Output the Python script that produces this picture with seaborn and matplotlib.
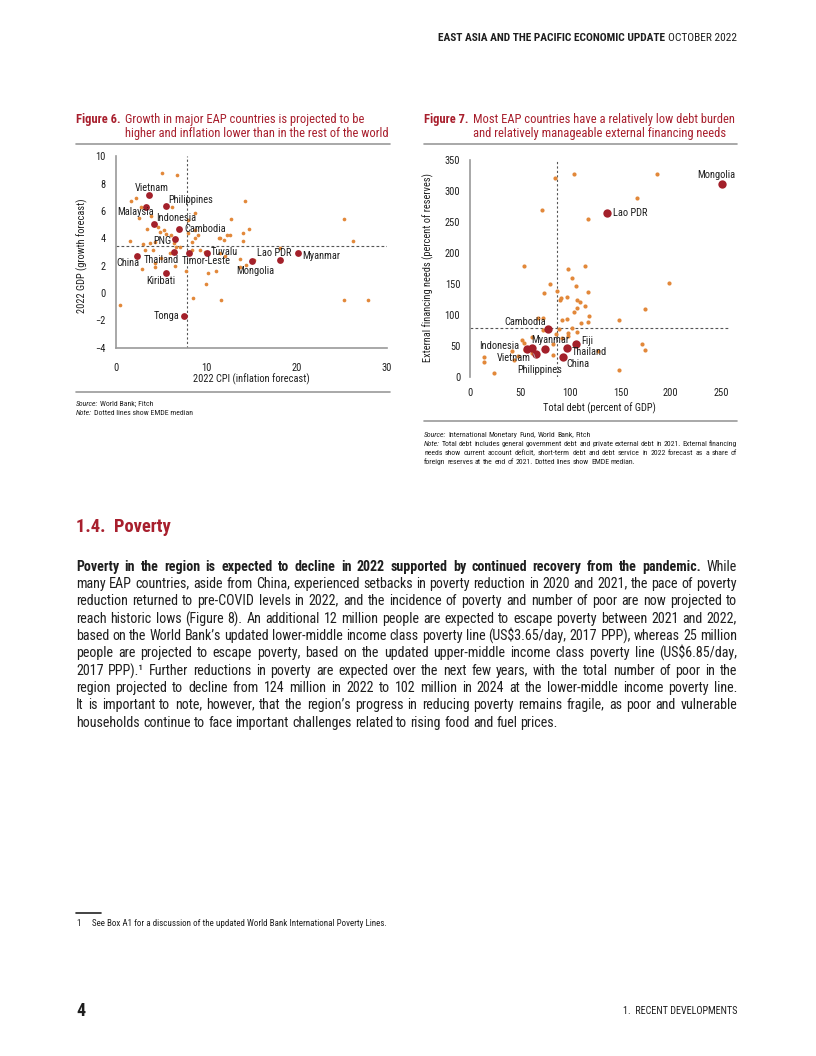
import matplotlib
matplotlib.use('Agg')
import matplotlib.pyplot as plt
from matplotlib import font_manager
from matplotlib.lines import Line2D
from matplotlib.backends.backend_agg import get_hinting_flag
import seaborn as sns
import pandas as pd

# ---- Figure 6 data: 2022 CPI (x) vs 2022 GDP growth (y)
eap6_names = ['Vietnam', 'Philippines', 'Malaysia', 'Indonesia', 'Cambodia', 'PNG', 'China',
              'Thailand', 'Timor-Leste', 'Tuvalu', 'Kiribati', 'Tonga', 'Mongolia', 'Lao PDR', 'Myanmar']
eap6_cpi = [3.7, 5.6, 3.3, 4.2, 7.0, 6.55, 2.4, 6.4, 8.1, 10.1, 5.55, 7.55, 15.1, 18.2, 20.2]
eap6_gdp = [7.15, 6.4, 6.3, 5.05, 4.7, 3.95, 2.73, 3.0, 2.9, 2.9, 1.44, -1.68, 2.34, 2.41, 2.9]
oth6_cpi = [5.1, 6.8, 1.7, 2.2, 2.8, 6.25, 14.3, 2.6, 3.9, 8.8, 8.0, 12.7, 25.3, 3.5, 4.7, 8.0, 8.8,
            12.3, 12.6, 14.1, 14.7, 11.4, 14.1, 1.6, 26.2, 5.3, 6.4, 6.7, 3.05, 3.8, 4.35, 4.9, 5.55,
            6.1, 7.1, 8.76, 8.4, 9.1, 11.5, 12.0, 3.2, 4.15, 8.4, 9.3, 11.5, 2.95, 4.35, 6.55, 7.77,
            10.2, 11.1, 10.0, 8.6, 11.6, 0.5, 13.7, 14.4, 13.7, 12.1, 15.3, 18.15, 25.3, 27.9, 9.9,
            6.0, 4.3, 5.0]
oth6_gdp = [8.76, 8.63, 6.75, 6.93, 6.3, 6.3, 6.75, 5.5, 5.6, 5.83, 5.34, 5.44, 5.44, 4.66, 4.8,
            4.37, 4.6, 4.24, 4.24, 4.37, 4.7, 4.05, 3.83, 3.78, 3.78, 4.6, 3.68, 3.39, 3.58, 3.63,
            3.75, 4.45, 4.3, 4.24, 3.39, 4.0, 3.75, 4.24, 4.0, 3.88, 3.15, 3.15, 3.15, 3.15, 2.9,
            1.73, 1.93, 1.97, 1.61, 1.44, 1.61, 0.66, -0.39, -0.51, -0.88, 1.93, 2.05, 2.47, 2.7,
            2.4, 3.3, -0.51, -0.51, 3.0, 2.9, 2.2, 2.55]
emde6_cpi_median = 7.9
emde6_gdp_median = 3.44

# ---- Figure 7 data: total debt (x) vs external financing needs (y)
eap7_names = ['Mongolia', 'Lao PDR', 'Cambodia', 'Indonesia', 'Myanmar', 'Vietnam',
              'Philippines', 'Fiji', 'Thailand', 'China']
eap7_debt = [251, 136.5, 77.4, 56.5, 74.4, 65.7, 61.5, 106, 97, 93]
eap7_efn = [310, 264.5, 77.5, 44.2, 44.2, 36, 45.5, 53.2, 46.3, 32.3]
oth7_debt = [84.7, 103.6, 72, 117.8, 186, 166, 54, 97.6, 115, 101.3, 80, 105.6, 117.9, 74, 86.3,
             90.6, 90, 96.3, 106.3, 109.6, 114.6, 106.9, 103.9, 118.5, 96.3, 91.3, 88.6, 101.6,
             110.6, 117.2, 106.6, 97.2, 97.2, 85.4, 67.7, 73, 72.8, 61.4, 51.5, 54.1, 91.3, 83,
             42.1, 48.1, 44.1, 14.2, 14.2, 24.2, 82.4, 127.8, 62, 54.8, 198.3, 174.3, 148.4,
             171.6, 174, 148]
oth7_efn = [320, 327, 269, 254, 327, 289, 178, 174, 179, 159.7, 149, 146.8, 136.6, 134.5, 138.2,
            126.4, 123.7, 129, 123.7, 120, 114, 111.3, 104.4, 98.4, 93.5, 91.4, 76.5, 78.5, 86,
            87.7, 72.6, 70, 65.6, 68.9, 94.2, 95.2, 75.3, 63.5, 59.2, 53.8, 61.9, 52.7, 41, 33.4,
            27, 32.3, 23.7, 6.5, 35, 42, 37.7, 43, 151.6, 108.7, 91.5, 52.7, 43, 10.8]
emde7_debt_median = 86.3
emde7_efn_median = 79

# ---- page text
header_bold = 'EAST ASIA AND THE PACIFIC ECONOMIC UPDATE'
header_reg = 'OCTOBER 2022'
fig6_title = ['Growth in major EAP countries is projected to be',
              'higher and inflation lower than in the rest of the world']
fig7_title = ['Most EAP countries have a relatively low debt burden',
              'and relatively manageable external financing needs']
fig6_source = [('Source:', 'World Bank; Fitch'), ('Note:', 'Dotted lines show EMDE median')]
fig7_source = ['Source: International Monetary Fund, World Bank, Fitch',
               'Note: Total debt includes general government debt and private external debt in 2021. External financing',
               'needs show current account deficit, short-term debt and debt service in 2022 forecast as a share of',
               'foreign reserves at the end of 2021. Dotted lines show EMDE median.']
section_title = '1.4.  Poverty'
bold_lead = 'Poverty in the region is expected to decline in 2022 supported by continued recovery from the pandemic.'
para_lines = [
    'Poverty in the region is expected to decline in 2022 supported by continued recovery from the pandemic. While',
    'many EAP countries, aside from China, experienced setbacks in poverty reduction in 2020 and 2021, the pace of poverty',
    'reduction returned to pre-COVID levels in 2022, and the incidence of poverty and number of poor are now projected to',
    'reach historic lows (Figure 8). An additional 12 million people are expected to escape poverty between 2021 and 2022,',
    'based on the World Bank\u2019s updated lower-middle income class poverty line (US$3.65/day, 2017 PPP), whereas 25 million',
    'people are projected to escape poverty, based on the updated upper-middle income class poverty line (US$6.85/day,',
    '2017 PPP).\u00b9 Further reductions in poverty are expected over the next few years, with the total number of poor in the',
    'region projected to decline from 124 million in 2022 to 102 million in 2024 at the lower-middle income poverty line.',
    'It is important to note, however, that the region\u2019s progress in reducing poverty remains fragile, as poor and vulnerable',
    'households continue to face important challenges related to rising food and fuel prices.',
]
footnote = 'See Box A1 for a discussion of the updated World Bank International Poverty Lines.'
page_no = '4'
chapter = '1.  RECENT DEVELOPMENTS'

# label offsets in pixels (dx, dy, ha)
lab6 = {'Vietnam': (3, 7, 'center'), 'Philippines': (2, 6, 'left'), 'Malaysia': (8, -5, 'right'),
        'Indonesia': (2, 6, 'left'), 'Cambodia': (5, 0, 'left'), 'PNG': (-4, -2, 'right'),
        'China': (2, -7, 'right'), 'Thailand': (5, -8, 'right'), 'Timor-Leste': (-7, -8, 'left'),
        'Tuvalu': (4, 1, 'left'), 'Kiribati': (-5, -8, 'center'), 'Tonga': (-5, 0, 'right'),
        'Mongolia': (3, -10, 'center'), 'Lao PDR': (11, 7, 'right'), 'Myanmar': (4, -3, 'left')}
lab7 = {'Mongolia': (-6, 9, 'center'), 'Lao PDR': (6, 0, 'left'), 'Cambodia': (-2, 7, 'right'),
        'Indonesia': (-7, 3, 'right'), 'Myanmar': (6, 9, 'center'), 'Vietnam': (-5, -4, 'right'),
        'Philippines': (8, -22, 'center'), 'Fiji': (5, 3, 'left'), 'Thailand': (4, -4, 'left'),
        'China': (3, -7, 'left')}

sns.set_style('white')
avail = {f.name for f in font_manager.fontManager.ttflist}
FONT = 'DejaVu Sans'
for cand in ['Liberation Sans Narrow', 'Roboto Condensed', 'Open Sans Condensed', 'Roboto', 'Lato']:
    if cand in avail:
        FONT = cand
        break
plt.rcParams['font.family'] = [FONT, 'DejaVu Sans']

RED = '#a81f2d'
DOT_RED = '#a3202a'
ORANGE = '#e2883a'
TXT = '#1e1e1e'
GRID = '#9a9a9a'

W, H = 816, 1056
fig = plt.figure(figsize=(8.16, 10.56), dpi=100)
rend = fig.canvas.get_renderer()


def fx(px):
    return px / W


def fy(py):
    return 1 - py / H


def hline(x0, x1, y, color=GRID, lw=1.2):
    fig.add_artist(Line2D([fx(x0), fx(x1)], [fy(y), fy(y)], transform=fig.transFigure,
                          color=color, lw=lw))


def width_of(t):
    return t.get_window_extent(rend).width


def measure(s, size, wt='normal', st='normal'):
    t = fig.text(0, 0, s, fontsize=size, fontweight=wt, fontstyle=st, parse_math=False)
    w = width_of(t)
    t.remove()
    return w


def baseline_fix(t):
    # Agg places a string bitmap from its own bbox, which can move the baseline by a pixel
    # from word to word; work out that shift so every word lands on the same row
    font = rend._prepare_font(t.get_fontproperties())
    font.set_text(t.get_text(), 0, flags=get_hinting_flag())
    h26 = font.get_width_height()[1]
    d26 = font.get_descent()
    return (h26 - d26) // 64 - h26 // 64, d26 / 64


def put_words(y, x0, x1, words, size, justify=True, color=TXT):
    row = round(y + 0.34 * size * 100 / 72)
    arts = [fig.text(0, 0.5, w, fontsize=size, fontweight=wt, fontstyle=st, color=color,
                     va='baseline', ha='left', parse_math=False) for w, wt, st in words]
    widths = [width_of(a) for a in arts]
    space = measure('a a', size) - measure('aa', size)
    gap = (x1 - x0 - sum(widths)) / (len(arts) - 1) if (justify and len(arts) > 1) else space
    x = x0
    for a, w in zip(arts, widths):
        k, dd = baseline_fix(a)
        yf = row - k - dd
        a.set_position((fx(x), (H - yf) / H))
        x += w + gap


# ---- header
t = fig.text(fx(737), fy(38), header_reg, fontsize=8.2, ha='right', va='center', color=TXT)
fig.text(fx(737 - width_of(t) - 3), fy(38), header_bold, fontsize=8.2, fontweight='bold',
         ha='right', va='center', color=TXT)

# ---- figure titles
for x0, num, lines in [(76, 'Figure 6.', fig6_title), (424, 'Figure 7.', fig7_title)]:
    t = fig.text(fx(x0), fy(119), num, fontsize=9, fontweight='bold', color=RED, va='center')
    xs = x0 + width_of(t) + 4
    fig.text(fx(xs), fy(119), lines[0], fontsize=9, color=RED, va='center')
    fig.text(fx(xs), fy(133), lines[1], fontsize=9, color=RED, va='center')
hline(76, 390, 144)
hline(424, 737, 144)

# ---- Figure 6 chart
ax6 = fig.add_axes([fx(115.7), fy(347.7), (387 - 115.7) / W, (347.7 - 156.3) / H])
df6o = pd.DataFrame({'cpi': oth6_cpi, 'gdp': oth6_gdp})
df6e = pd.DataFrame({'name': eap6_names, 'cpi': eap6_cpi, 'gdp': eap6_gdp})
ax6.axvline(emde6_cpi_median, color='#555555', lw=0.8, ls=(0, (2, 2)), zorder=1)
ax6.axhline(emde6_gdp_median, color='#555555', lw=0.8, ls=(0, (2.5, 2)), zorder=1)
sns.scatterplot(data=df6o, x='cpi', y='gdp', color=ORANGE, s=7, linewidth=0, ax=ax6, zorder=2)
sns.scatterplot(data=df6e, x='cpi', y='gdp', color=DOT_RED, s=24, linewidth=0, ax=ax6, zorder=3)
for _, r in df6e.iterrows():
    dx, dy, ha = lab6[r['name']]
    ax6.annotate(r['name'], (r['cpi'], r['gdp']), xytext=(dx, dy), textcoords='offset pixels',
                 ha=ha, va='center', fontsize=7.5, color=TXT, zorder=4)
ax6.set_xlim(0, 30)
ax6.set_ylim(-4, 10)
ax6.set_xticks([0, 10, 20, 30])
ax6.set_yticks(range(-4, 11, 2))
ax6.tick_params(length=0, labelsize=7.5, colors=TXT)
ax6.tick_params(axis='x', pad=11)
ax6.tick_params(axis='y', pad=7)
for s in ['top', 'right']:
    ax6.spines[s].set_visible(False)
for s in ['left', 'bottom']:
    ax6.spines[s].set_color(GRID)
    ax6.spines[s].set_linewidth(1.2)
ax6.set_xlabel('2022 CPI (inflation forecast)', fontsize=7.5, color=TXT)
ax6.set_ylabel('2022 GDP (growth forecast)', fontsize=7.5, color=TXT)
ax6.xaxis.label.set_va('center')
ax6.yaxis.label.set_va('center')
ax6.xaxis.set_label_coords(0.5, -0.1635)
ax6.yaxis.set_label_coords(-0.124, 0.48)
ax6.set_facecolor('none')

hline(76, 390, 392)
for i, (a, b) in enumerate(fig6_source):
    put_words(403 + 9 * i, 76, 390, [(a, 'normal', 'italic'), (b, 'normal', 'normal')], 5.6,
              justify=False)

# ---- Figure 7 chart
ax7 = fig.add_axes([fx(470), fy(376.7), 259 / W, (376.7 - 159.7) / H])
df7o = pd.DataFrame({'debt': oth7_debt, 'efn': oth7_efn})
df7e = pd.DataFrame({'name': eap7_names, 'debt': eap7_debt, 'efn': eap7_efn})
ax7.axvline(emde7_debt_median, color='#555555', lw=0.8, ls=(0, (2, 2)), zorder=1)
ax7.axhline(emde7_efn_median, color='#555555', lw=0.8, ls=(0, (2.5, 2)), zorder=1)
sns.scatterplot(data=df7o, x='debt', y='efn', color=ORANGE, s=9, linewidth=0, ax=ax7, zorder=2)
sns.scatterplot(data=df7e, x='debt', y='efn', color=DOT_RED, s=36, linewidth=0, ax=ax7, zorder=3)
for _, r in df7e.iterrows():
    dx, dy, ha = lab7[r['name']]
    kw = {}
    if r['name'] == 'Philippines':
        kw = dict(arrowprops=dict(arrowstyle='-', color='#bbbbbb', lw=0.6, shrinkA=3, shrinkB=4))
    ax7.annotate(r['name'], (r['debt'], r['efn']), xytext=(dx, dy), textcoords='offset pixels',
                 ha=ha, va='center', fontsize=7.5, color=TXT, zorder=4, **kw)
ax7.set_xlim(0, 258)
ax7.set_ylim(0, 350)
ax7.set_xticks([0, 50, 100, 150, 200, 250])
ax7.set_yticks(range(0, 351, 50))
ax7.tick_params(length=0, labelsize=7.5, colors=TXT)
ax7.tick_params(axis='x', pad=8)
ax7.tick_params(axis='y', pad=7)
for s in ['top', 'right', 'bottom']:
    ax7.spines[s].set_visible(False)
ax7.spines['left'].set_color(GRID)
ax7.spines['left'].set_linewidth(1.2)
ax7.set_xlabel('Total debt (percent of GDP)', fontsize=7.5, color=TXT)
ax7.set_ylabel('External financing needs (percent of reserves)', fontsize=7.5, color=TXT)
ax7.xaxis.label.set_va('center')
ax7.yaxis.label.set_va('center')
ax7.xaxis.set_label_coords(0.5, -0.144)
ax7.yaxis.set_label_coords(-0.162, 0.503)
ax7.set_facecolor('none')

hline(424, 737, 421)
for i, line in enumerate(fig7_source):
    words = line.split(' ')
    styled = [(w, 'normal', 'italic' if (j == 0 and i < 2) else 'normal') for j, w in enumerate(words)]
    put_words(434 + 9 * i, 424, 737, styled, 5.6, justify=(i in (1, 2)))

# ---- section text
fig.text(fx(76), fy(527), section_title, fontsize=13.3, fontweight='bold', color=RED, va='center')
n_bold = len(bold_lead.split(' '))
for i, line in enumerate(para_lines):
    words = line.split(' ')
    styled = [(w, 'bold' if (i == 0 and j < n_bold) else 'normal', 'normal') for j, w in enumerate(words)]
    put_words(566 + 17.33 * i, 76, 737, styled, 10.1, justify=(i < len(para_lines) - 1))

# ---- footnote and footer
hline(76, 101, 913, color='#222222', lw=1.2)
fig.text(fx(76), fy(923), '1', fontsize=6.5, color=TXT, va='center')
fig.text(fx(92), fy(923), footnote, fontsize=6.5, color=TXT, va='center')
fig.text(fx(76), fy(1011), page_no, fontsize=13, fontweight='bold', color=TXT, va='center')
fig.text(fx(737), fy(1011), chapter, fontsize=7.3, color=TXT, va='center', ha='right')

fig.savefig('out.png', dpi=100)
